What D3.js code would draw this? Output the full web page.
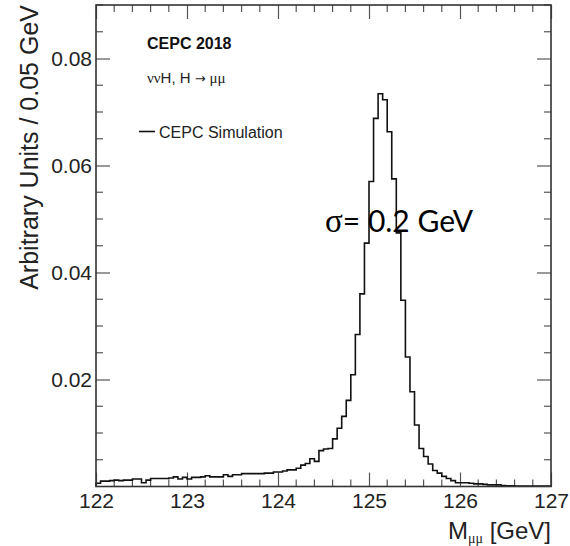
<!DOCTYPE html>
<html>
<head>
<meta charset="utf-8">
<script src="https://cdn.jsdelivr.net/npm/d3@7"></script>
<style>
  html, body { margin: 0; padding: 0; background: #fff; }
  svg { display: block; }
</style>
</head>
<body>
<svg id="chart" width="570" height="546"></svg>
<script>
// ---- data ----
const binStart = 122.0;   // GeV
const binWidth = 0.05;    // GeV
const binValues = [
  0.0006, 0.0010, 0.0010, 0.0011, 0.0012, 0.0011, 0.0012, 0.0012, 0.0014, 0.0014,
  0.0007, 0.0012, 0.0015, 0.0015, 0.0015, 0.0015, 0.0016, 0.0018, 0.0014, 0.0017,
  0.0014, 0.0017, 0.0017, 0.0018, 0.0020, 0.0018, 0.0018, 0.0018, 0.0022, 0.0019,
  0.0022, 0.0022, 0.0024, 0.0024, 0.0024, 0.0024, 0.0024, 0.0025, 0.0025, 0.0027,
  0.0027, 0.0029, 0.0031, 0.0031, 0.0034, 0.0040, 0.0043, 0.0052, 0.0047, 0.0067,
  0.0070, 0.0071, 0.0089, 0.0109, 0.0131, 0.0161, 0.0209, 0.0284, 0.0360, 0.0455,
  0.0570, 0.0688, 0.0734, 0.0723, 0.0663, 0.0575, 0.0474, 0.0348, 0.0242, 0.0177,
  0.0115, 0.0071, 0.0056, 0.0042, 0.0030, 0.0025, 0.0019, 0.0015, 0.0011, 0.0007,
  0.0007, 0.0007, 0.0006, 0.0005, 0.0005, 0.0004, 0.0003, 0.0003, 0.0003, 0.0002,
  0.00015, 0.00012, 0.0001, 0.0001, 0.0001, 0.0001, 0.0001, 0.0001, 0.0001, 0.0001
];
const xTickValues = [122, 123, 124, 125, 126, 127];
const xTickLabels = ["122", "123", "124", "125", "126", "127"];
const yTickValues = [0.02, 0.04, 0.06, 0.08];
const yTickLabels = ["0.02", "0.04", "0.06", "0.08"];
const xDomain = [122, 127];
const yDomain = [0, 0.09];
const yTitle = "Arbitrary Units / 0.05 GeV";
const headerText = "CEPC 2018";
const legendLabel = "CEPC Simulation";
const sigmaValue = "0.2 GeV";

// ---- layout ----
const svg = d3.select("#chart");
const frame = { left: 96, right: 551, top: 5, bottom: 486.5 };
const x = d3.scaleLinear().domain(xDomain).range([frame.left, frame.right]);
const y = d3.scaleLinear().domain(yDomain).range([frame.bottom, frame.top]);
const font = "'Liberation Sans', Arial, Helvetica, sans-serif";
const tickColor = "#555";

// minor tick arrays
const xMinor = d3.range(122, 127.0001, 0.2).map(v => +v.toFixed(2)).filter(v => !xTickValues.some(t => Math.abs(t - v) < 1e-6));
const yMinor = d3.range(0.005, 0.0901, 0.005).map(v => +v.toFixed(4)).filter(v => !yTickValues.some(t => Math.abs(t - v) < 1e-6));

const majorLen = 14, minorLen = 7;

// bottom axis (ticks inward)
const xAxisB = d3.axisBottom(x).tickValues(xTickValues).tickFormat((d, i) => xTickLabels[i]).tickSize(-majorLen).tickPadding(6.5);
const gxb = svg.append("g").attr("transform", `translate(0,${frame.bottom})`).call(xAxisB);
gxb.select(".domain").remove();
gxb.selectAll(".tick line").attr("stroke", tickColor).attr("stroke-width", 1.2);
gxb.selectAll(".tick text").attr("font-family", font).attr("font-size", 21).attr("fill", "#222");
svg.append("g").selectAll("line").data(xMinor).join("line")
  .attr("x1", d => x(d)).attr("x2", d => x(d))
  .attr("y1", frame.bottom).attr("y2", frame.bottom - minorLen)
  .attr("stroke", tickColor).attr("stroke-width", 1.2);

// top axis ticks
const xAxisT = d3.axisTop(x).tickValues(xTickValues).tickFormat("").tickSize(-majorLen);
const gxt = svg.append("g").attr("transform", `translate(0,${frame.top})`).call(xAxisT);
gxt.select(".domain").remove();
gxt.selectAll(".tick line").attr("stroke", tickColor).attr("stroke-width", 1.2);
svg.append("g").selectAll("line").data(xMinor).join("line")
  .attr("x1", d => x(d)).attr("x2", d => x(d))
  .attr("y1", frame.top).attr("y2", frame.top + minorLen)
  .attr("stroke", tickColor).attr("stroke-width", 1.2);

// left axis
const yAxisL = d3.axisLeft(y).tickValues(yTickValues).tickFormat((d, i) => yTickLabels[i]).tickSize(-majorLen).tickPadding(4);
const gyl = svg.append("g").attr("transform", `translate(${frame.left},0)`).call(yAxisL);
gyl.select(".domain").remove();
gyl.selectAll(".tick line").attr("stroke", tickColor).attr("stroke-width", 1.2);
gyl.selectAll(".tick text").attr("font-family", font).attr("font-size", 21).attr("fill", "#222");
svg.append("g").selectAll("line").data(yMinor).join("line")
  .attr("x1", frame.left).attr("x2", frame.left + minorLen)
  .attr("y1", d => y(d)).attr("y2", d => y(d))
  .attr("stroke", tickColor).attr("stroke-width", 1.2);

// right axis
const yAxisR = d3.axisRight(y).tickValues(yTickValues).tickFormat("").tickSize(-majorLen);
const gyr = svg.append("g").attr("transform", `translate(${frame.right},0)`).call(yAxisR);
gyr.select(".domain").remove();
gyr.selectAll(".tick line").attr("stroke", tickColor).attr("stroke-width", 1.2);
svg.append("g").selectAll("line").data(yMinor).join("line")
  .attr("x1", frame.right).attr("x2", frame.right - minorLen)
  .attr("y1", d => y(d)).attr("y2", d => y(d))
  .attr("stroke", tickColor).attr("stroke-width", 1.2);

// histogram step line
const bins = binValues.map((v, i) => ({ x0: binStart + i * binWidth, x1: binStart + (i + 1) * binWidth, v }));
let pathStr = `M${x(bins[0].x0)},${y(0)}`;
bins.forEach(b => { pathStr += `L${x(b.x0)},${y(b.v)}L${x(b.x1)},${y(b.v)}`; });
pathStr += `L${x(bins[bins.length - 1].x1)},${y(0)}`;
svg.append("path").attr("d", pathStr).attr("fill", "none")
  .attr("stroke", "#111").attr("stroke-width", 1.6).attr("stroke-linejoin", "miter");

// frame
svg.append("rect").attr("x", frame.left).attr("y", frame.top)
  .attr("width", frame.right - frame.left).attr("height", frame.bottom - frame.top)
  .attr("fill", "none").attr("stroke", "#333").attr("stroke-width", 1.6);

// axis titles
svg.append("text").attr("transform", `translate(38,${frame.top}) rotate(-90)`)
  .attr("text-anchor", "end").attr("font-family", font).attr("font-size", 25).attr("fill", "#222")
  .text(yTitle);
const xt = svg.append("text").attr("x", frame.right).attr("y", 539)
  .attr("text-anchor", "end").attr("font-family", font).attr("font-size", 24).attr("fill", "#222");
xt.append("tspan").text("M");
xt.append("tspan").attr("font-size", 14).attr("dy", 4).attr("font-family", "'Liberation Serif', serif").text("μμ");
xt.append("tspan").attr("dy", -4).text(" [GeV]");

// header texts
svg.append("text").attr("x", 147).attr("y", 48.5).attr("font-family", font)
  .attr("font-weight", "bold").attr("font-size", 16).attr("fill", "#111").text(headerText);
const proc = svg.append("text").attr("x", 147).attr("y", 83).attr("font-family", font)
  .attr("font-size", 15).attr("fill", "#222");
proc.append("tspan").attr("font-family", "'Liberation Serif', serif").text("νν");
proc.append("tspan").text("H, H ");
proc.append("tspan").attr("font-family", "'DejaVu Sans', sans-serif").attr("font-size", 13).text("→");
proc.append("tspan").attr("font-family", "'Liberation Serif', serif").text(" μμ");

// legend
svg.append("line").attr("x1", 139).attr("x2", 155).attr("y1", 131.5).attr("y2", 131.5)
  .attr("stroke", "#111").attr("stroke-width", 1.6);
svg.append("text").attr("x", 159).attr("y", 138).attr("font-family", font)
  .attr("font-size", 16).attr("fill", "#222").text(legendLabel);

// sigma annotation
const st = svg.append("text").attr("x", 325).attr("y", 232).attr("font-size", 30).attr("fill", "#000");
st.append("tspan").attr("font-family", "'Liberation Serif', serif").attr("font-size", 33).text("σ");
st.append("tspan").attr("font-family", "Lato, 'Open Sans', sans-serif").text("= " + sigmaValue);
</script>
</body>
</html>
